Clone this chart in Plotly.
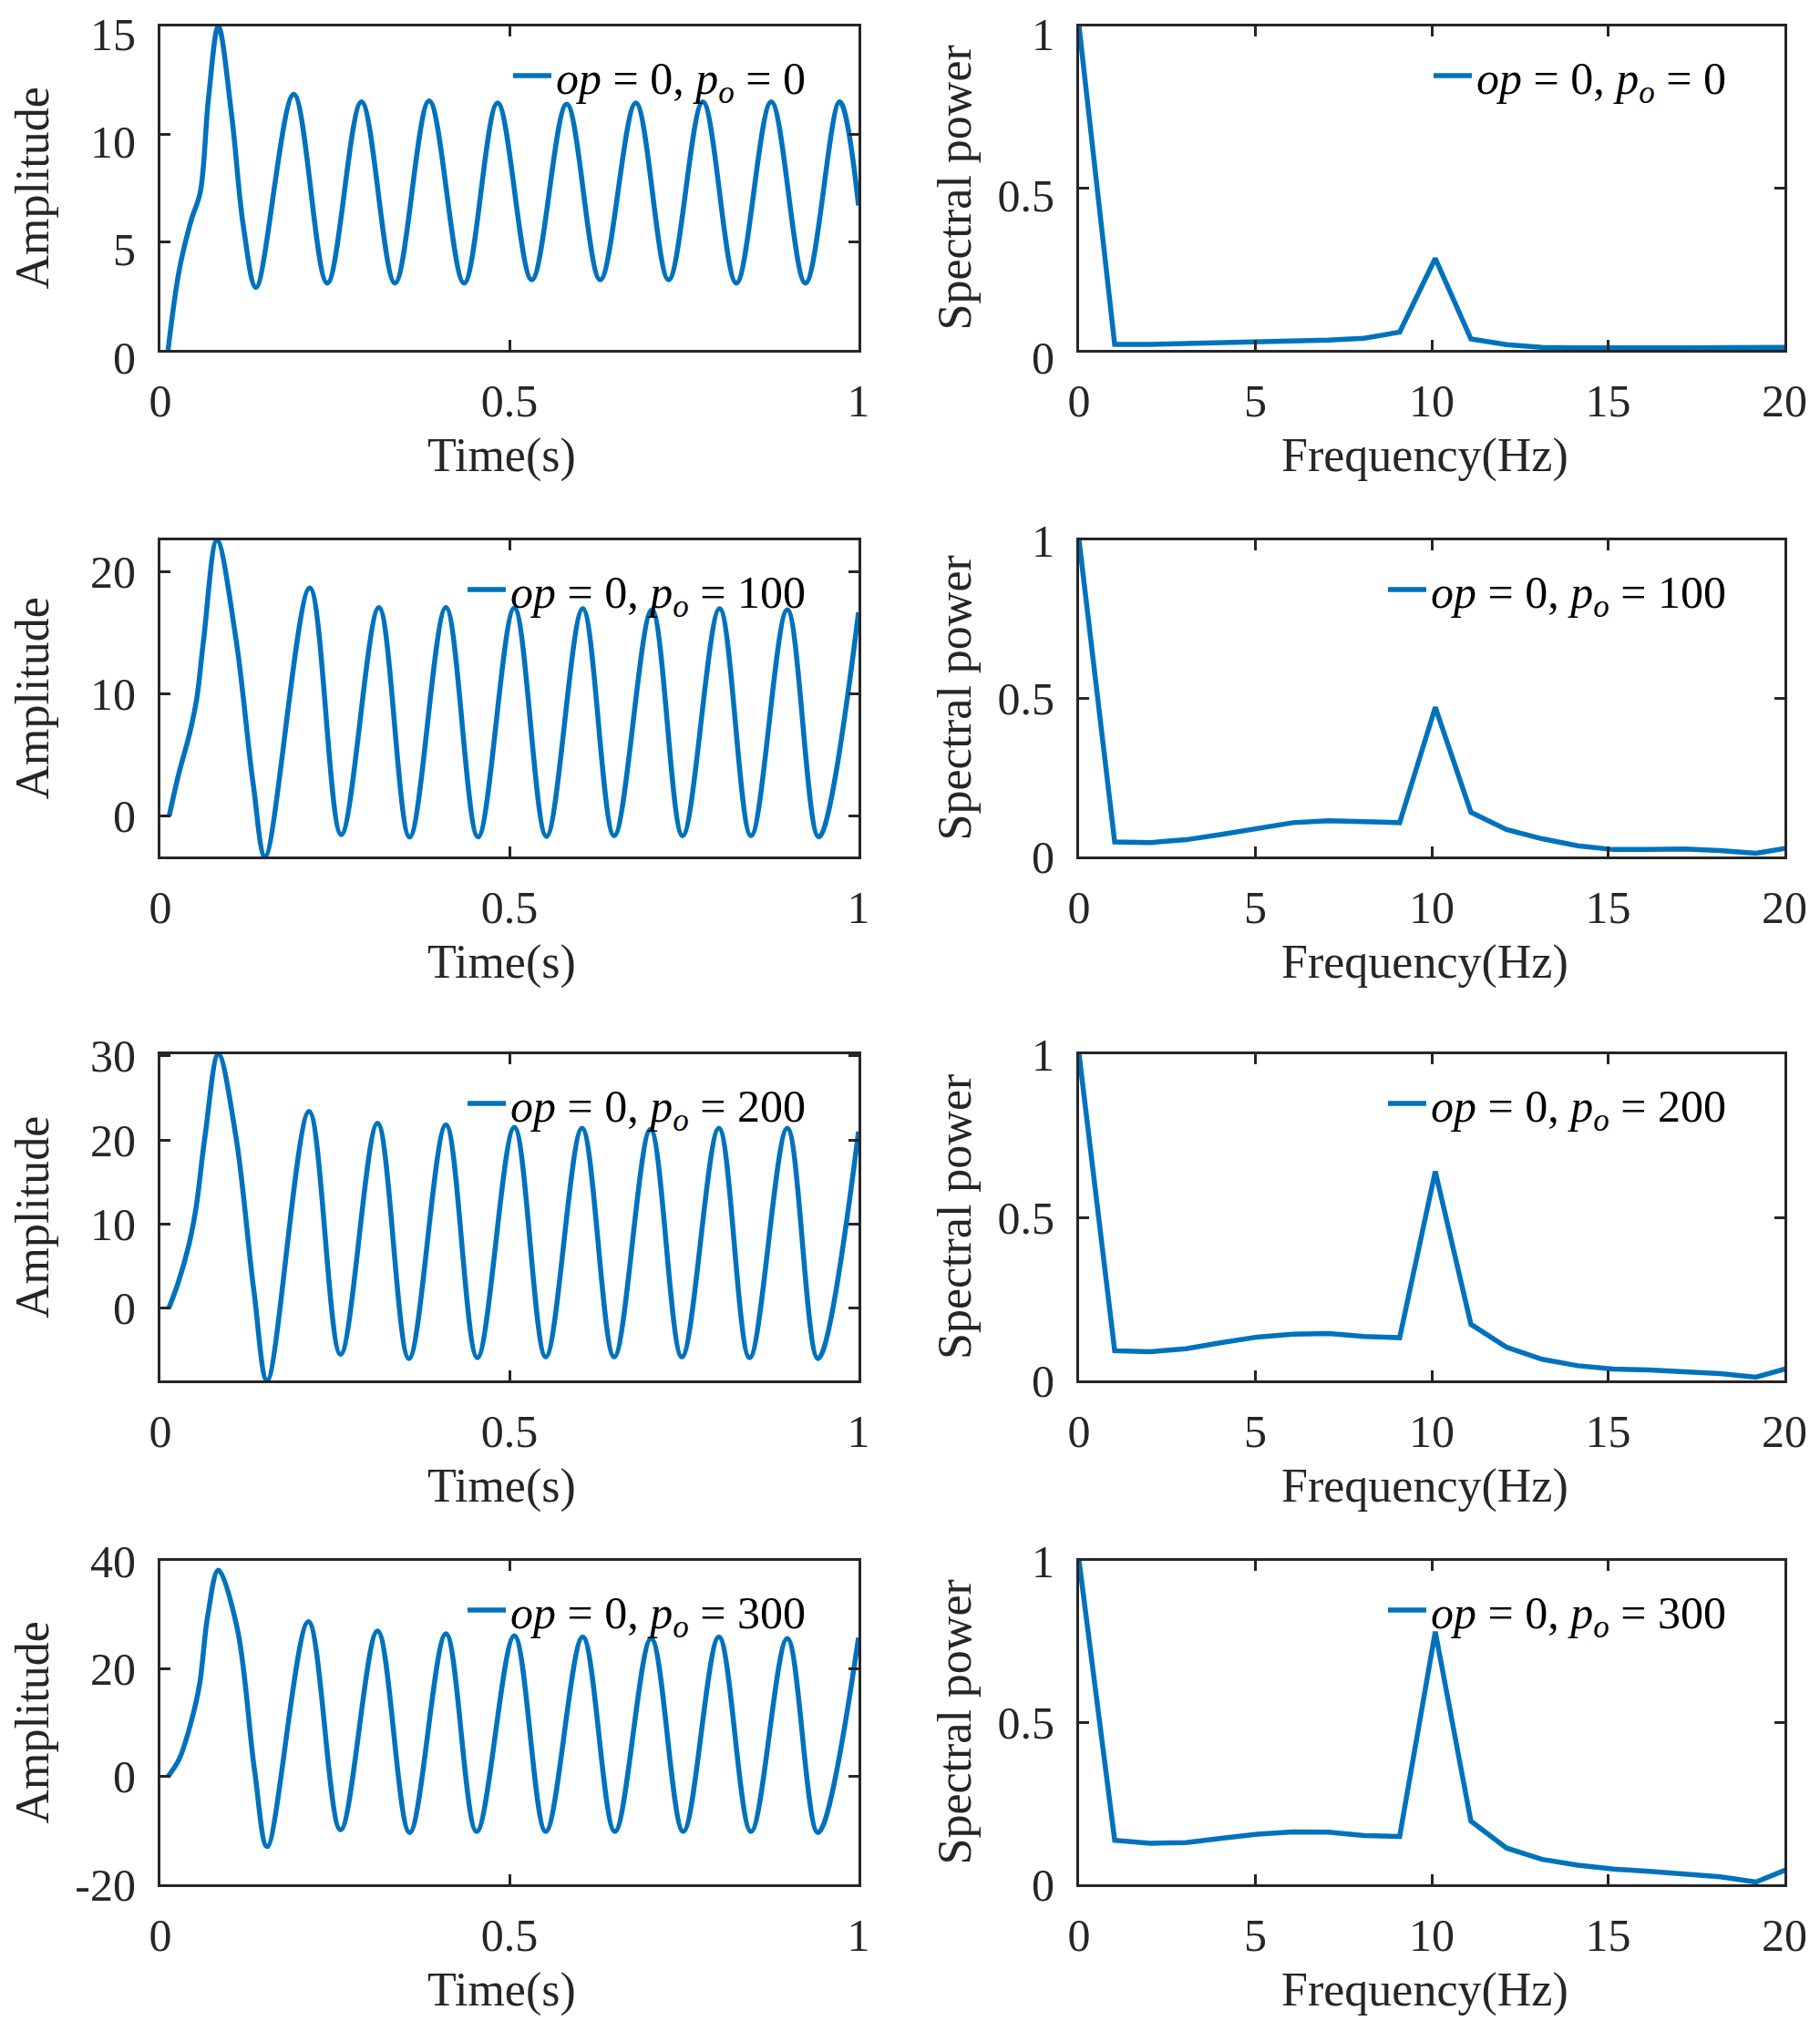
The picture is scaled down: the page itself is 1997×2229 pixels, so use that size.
import plotly.graph_objects as go

# ---------------- data ----------------
po_values = [0, 100, 200, 300]

t_po0 = [0.011, 0.027, 0.044, 0.057, 0.069, 0.083, 0.102, 0.119, 0.137,
         0.191, 0.239, 0.288, 0.336, 0.385, 0.435, 0.483, 0.532, 0.582,
         0.630, 0.681, 0.728, 0.777, 0.825, 0.875, 0.924, 0.973, 1.0]
a_po0 = [0, 3.7, 6.0, 7.3, 11.7, 15.0, 10.9, 5.7, 2.9,
         11.85, 3.1, 11.5, 3.1, 11.55, 3.1, 11.45, 3.25, 11.4,
         3.25, 11.45, 3.25, 11.5, 3.1, 11.5, 3.1, 11.5, 6.7]

t_po100 = [0.0125, 0.026, 0.042, 0.052, 0.062, 0.081, 0.108, 0.133, 0.150,
           0.214, 0.259, 0.313, 0.357, 0.409, 0.455, 0.507, 0.553, 0.605,
           0.650, 0.704, 0.748, 0.801, 0.846, 0.898, 0.943, 1.0]
a_po100 = [0, 3.4, 6.8, 9.6, 14.5, 22.6, 14.6, 2.6, -3.3,
           18.7, -1.5, 17.1, -1.7, 17.1, -1.7, 17.05, -1.65, 17.0,
           -1.6, 16.9, -1.6, 17.0, -1.6, 16.9, -1.7, 16.7]

t_po200 = [0.012, 0.025, 0.041, 0.051, 0.064, 0.083, 0.108, 0.134, 0.153,
           0.213, 0.258, 0.311, 0.356, 0.409, 0.454, 0.507, 0.552, 0.604,
           0.650, 0.702, 0.747, 0.800, 0.844, 0.898, 0.942, 1.0]
a_po200 = [0, 2.9, 7.6, 11.9, 20.5, 30.2, 20.5, 2.0, -8.6,
           23.4, -5.5, 22.0, -6.0, 21.8, -5.9, 21.5, -5.8, 21.4,
           -5.8, 21.25, -5.8, 21.4, -5.9, 21.4, -6.0, 21.0]

t_po300 = [0.011, 0.027, 0.044, 0.056, 0.068, 0.083, 0.110, 0.135, 0.153,
           0.212, 0.258, 0.311, 0.357, 0.409, 0.453, 0.507, 0.552, 0.605,
           0.651, 0.703, 0.749, 0.800, 0.846, 0.898, 0.942, 1.0]
a_po300 = [0, 3.25, 10.1, 17.0, 30.0, 38.25, 27.5, 1.0, -13.0,
           28.7, -9.9, 27.0, -10.4, 26.5, -10.2, 26.1, -10.2, 25.9,
           -10.2, 25.6, -10.2, 25.9, -10.2, 25.6, -10.4, 25.75]

freq = [0, 1.01, 2.02, 3.03, 4.04, 5.05, 6.06, 7.07, 8.08, 9.09, 10.1,
        11.11, 12.12, 13.13, 14.14, 15.15, 16.16, 17.17, 18.18, 19.19, 20.2]
spec_po0 = [1.0, 0.017, 0.017, 0.019, 0.021, 0.023, 0.026, 0.030, 0.036, 0.055, 0.283,
            0.034, 0.016, 0.008, 0.006, 0.005, 0.005, 0.006, 0.007, 0.007, 0.008]
spec_po100 = [1.0, 0.046, 0.044, 0.053, 0.070, 0.089, 0.107, 0.113, 0.110, 0.107, 0.472,
              0.140, 0.085, 0.056, 0.034, 0.022, 0.022, 0.024, 0.019, 0.010, 0.029]
spec_po200 = [1.0, 0.091, 0.088, 0.097, 0.116, 0.133, 0.142, 0.144, 0.135, 0.131, 0.641,
              0.172, 0.102, 0.065, 0.045, 0.035, 0.032, 0.028, 0.021, 0.010, 0.041]
spec_po300 = [1.0, 0.136, 0.127, 0.129, 0.142, 0.155, 0.162, 0.161, 0.151, 0.148, 0.781,
              0.195, 0.112, 0.077, 0.059, 0.047, 0.040, 0.032, 0.023, 0.007, 0.052]

time_t = [t_po0, t_po100, t_po200, t_po300]
time_a = [a_po0, a_po100, a_po200, a_po300]
spectra = [spec_po0, spec_po100, spec_po200, spec_po300]

amp_ranges = [[0, 15], [-3.3, 22.6], [-8.6, 30.2], [-20, 40]]
amp_ticks = [[0, 5, 10, 15], [0, 10, 20], [0, 10, 20, 30], [-20, 0, 20, 40]]
time_ticks = [0, 0.5, 1]
freq_ticks = [0, 5, 10, 15, 20]
spec_ticks = [0, 0.5, 1]

# ---------------- layout geometry (page pixels) ----------------
PAGE_W, PAGE_H = 1997, 2229
BODY = 8                      # default body margin of the html page
W, H = PAGE_W - 2 * BODY, PAGE_H - 2 * BODY
left_x = (176, 942)
right_x = (1184, 1958)
rows_y = [(29, 384), (593, 940), (1157, 1515), (1713, 2068)]

BLUE = "#0072BD"
AX = "#262626"
FONT = "Liberation Serif"
TICK_SIZE = 50
TITLE_SIZE = 52
LEG_SIZE = 50


def px_x(p):
    return (p - BODY) / W


def px_y(p):
    return 1 - (p - BODY) / H


fig = go.Figure()
layout = dict(
    template="none",
    width=W, height=H,
    margin=dict(l=0, r=0, t=0, b=0, pad=0, autoexpand=False),
    paper_bgcolor="white", plot_bgcolor="white",
    font=dict(family=FONT, color=AX),
    showlegend=True,
)
annotations = []


def axis_common():
    return dict(
        showline=True, linecolor=AX, linewidth=3, mirror="ticks",
        ticks="inside", ticklen=11, tickwidth=2.5, tickcolor=AX,
        showgrid=False, zeroline=False, automargin=False,
        ticklabeloverflow="allow",
        tickfont=dict(family=FONT, size=TICK_SIZE, color=AX),
    )


def fmt(v):
    return "%g" % v


idx = 0
for r in range(4):
    y0, y1 = rows_y[r]
    for c in range(2):
        idx += 1
        xa = "xaxis" if idx == 1 else "xaxis%d" % idx
        ya = "yaxis" if idx == 1 else "yaxis%d" % idx
        xref = "x" if idx == 1 else "x%d" % idx
        yref = "y" if idx == 1 else "y%d" % idx
        leg = "legend" if idx == 1 else "legend%d" % idx
        xd = left_x if c == 0 else right_x
        name = "<i>op</i> = 0, <i>p<sub>o</sub></i> = %d" % po_values[r]
        if c == 0:
            fig.add_trace(go.Scatter(
                x=time_t[r], y=time_a[r], mode="lines",
                line=dict(color=BLUE, width=5.5, shape="spline", smoothing=1.0),
                name=name, xaxis=xref, yaxis=yref, legend=leg))
            xr, xt = [0, 1], time_ticks
            yr, yt = amp_ranges[r], amp_ticks[r]
            xtitle, ytitle = "Time(s)", "Amplitude"
        else:
            fig.add_trace(go.Scatter(
                x=freq, y=spectra[r], mode="lines",
                line=dict(color=BLUE, width=5.5),
                name=name, xaxis=xref, yaxis=yref, legend=leg))
            xr, xt = [0, 20], freq_ticks
            yr, yt = [0, 1], spec_ticks
            xtitle, ytitle = "Frequency(Hz)", "Spectral power"

        dx0, dx1 = px_x(xd[0]), px_x(xd[1])
        dy0, dy1 = px_y(y1), px_y(y0)
        xaxis = axis_common()
        xaxis.update(domain=[dx0, dx1], anchor=yref, range=xr,
                     tickmode="array", tickvals=xt, ticktext=[fmt(v) for v in xt],
                     ticklabelstandoff=10)
        yaxis = axis_common()
        yaxis.update(domain=[dy0, dy1], anchor=xref, range=yr,
                     tickmode="array", tickvals=yt, ticktext=[fmt(v) for v in yt],
                     ticklabelstandoff=14,
                     ticklabelshift=(8 if r == 0 else 0))
        layout[xa] = xaxis
        layout[ya] = yaxis

        # legend (no box) in upper right of each panel
        leg_end = 889 if c == 0 else 1899
        leg_y = y0 + 54
        layout[leg] = dict(
            x=px_x(leg_end), y=px_y(leg_y), xanchor="right", yanchor="middle",
            xref="paper", yref="paper",
            bgcolor="rgba(0,0,0,0)", borderwidth=0, itemwidth=42,
            font=dict(family=FONT, size=LEG_SIZE, color="black"),
        )

        # axis titles, positioned relative to the axis domains
        def fx(p):
            return (px_x(p) - dx0) / (dx1 - dx0)

        def fy(p):
            return (px_y(p) - dy0) / (dy1 - dy0)

        xc = 550 if c == 0 else 1563
        annotations.append(dict(
            text=xtitle, x=fx(xc), y=fy(y1 + 116),
            xref=xref + " domain", yref=yref + " domain",
            xanchor="center", yanchor="middle", showarrow=False,
            font=dict(family=FONT, size=TITLE_SIZE, color=AX)))
        yc = 35 if c == 0 else 1047
        annotations.append(dict(
            text=ytitle, x=fx(yc), y=fy((y0 + y1) / 2),
            xref=xref + " domain", yref=yref + " domain",
            xanchor="center", yanchor="middle", showarrow=False, textangle=-90,
            font=dict(family=FONT, size=TITLE_SIZE, color=AX)))

layout["annotations"] = annotations
fig.update_layout(**layout)
fig.write_html("out.html")
